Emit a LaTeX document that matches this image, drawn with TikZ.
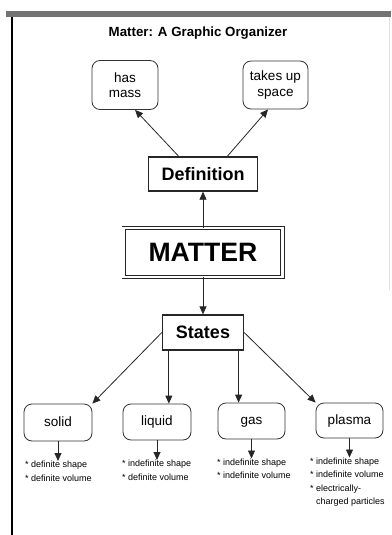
\documentclass[tikz,border=0pt]{standalone}
\usepackage{fontspec}
\setmainfont{Liberation Sans}
\usetikzlibrary{arrows.meta}

\begin{document}
\begin{tikzpicture}[x=1pt,y=1pt,yscale=-1,
	arr/.style={draw=black!85,line width=0.8pt,-{Triangle[length=8pt,width=7pt]}},
	roundbox/.style={draw=black!80,line width=0.8pt,rounded corners=8pt,align=center,inner sep=2pt,font=\fontsize{13.5}{15.5}\selectfont},
	statebox/.style={roundbox,text height=10pt,text depth=3pt},
	headbox/.style={draw=black!85,line width=1.3pt,inner sep=2pt,font=\fontsize{18}{20}\selectfont\bfseries},
	notes/.style={anchor=north west,inner sep=0pt,align=left,font=\fontsize{9}{13.5}\selectfont}]
		\useasboundingbox (0,0) rectangle (391,535);
		\fill[black!55] (6,11) -- (391,11) -- (391,17) -- (6,17) -- cycle;
		\draw[line width=2pt] (11.5,17) -- (11.5,535);
		\draw[black!12,line width=0.6pt] (389,17) -- (389,290);
		\draw (198,33) node [font=\fontsize{13.3}{15}\selectfont\bfseries] (title) {Matter: A Graphic Organizer};
		\draw (125,85) node [roundbox,minimum width=66,minimum height=49] (hasmass) {has\\mass};
		\draw (275.5,85) node [roundbox,minimum width=65,minimum height=48] (takesup) {takes up\\space};
		\draw (203,174) node [headbox,minimum width=109,minimum height=34] (defin) {Definition};
		\draw (203,252.5) node [draw=black!85,double,line width=0.9pt,double distance=2.5pt,minimum width=158.7,minimum height=48.7,inner sep=2pt,font=\fontsize{26.6}{30}\selectfont\bfseries] (matter) {MATTER};
		\draw (203,332.5) node [headbox,minimum width=81,minimum height=35] (states) {States};
		\draw (58,422.5) node [statebox,minimum width=68,minimum height=37] (solid) {solid};
		\draw (157,422) node [statebox,minimum width=68,minimum height=36] (liquid) {liquid};
		\draw (251.5,421) node [statebox,minimum width=67,minimum height=36] (gas) {gas};
		\draw (349.5,420.5) node [statebox,minimum width=67,minimum height=35] (plasma) {plasma};
		\draw (25,461) node [notes] (solidtxt) {* definite shape\\* definite volume};
		\draw (122,460) node [notes] (liquidtxt) {* indefinite shape\\* definite volume};
		\draw (217,458.5) node [notes] (gastxt) {* indefinite shape\\* indefinite volume};
		\draw (310,457.5) node [notes] (plasmatxt) {* indefinite shape\\* indefinite volume\\* electrically-\\\phantom{* }charged particles};
		\draw [arr] (defin.144) -- (hasmass.-68);
		\draw [arr] (defin.36) -- (takesup.253);
		\draw [arr] (matter.north) -- (defin.south);
		\draw [arr] (matter.south) -- (states.north);
		\draw [arr] (states.west) -- (solid.north east);
		\draw [arr] (states.-152) -- (states.-152 |- liquid.north);
		\draw [arr] (states.-27) -- (states.-27 |- gas.north);
		\draw [arr] (states.east) -- (plasma.north west);
		\draw [arr] (solid.south) -- (solid.south |- solidtxt.north);
		\draw [arr] (liquid.south) -- (liquid.south |- liquidtxt.north);
		\draw [arr] (gas.south) -- (gas.south |- gastxt.north);
		\draw [arr] (plasma.south) -- (plasma.south |- plasmatxt.north);
\end{tikzpicture}
\end{document}
